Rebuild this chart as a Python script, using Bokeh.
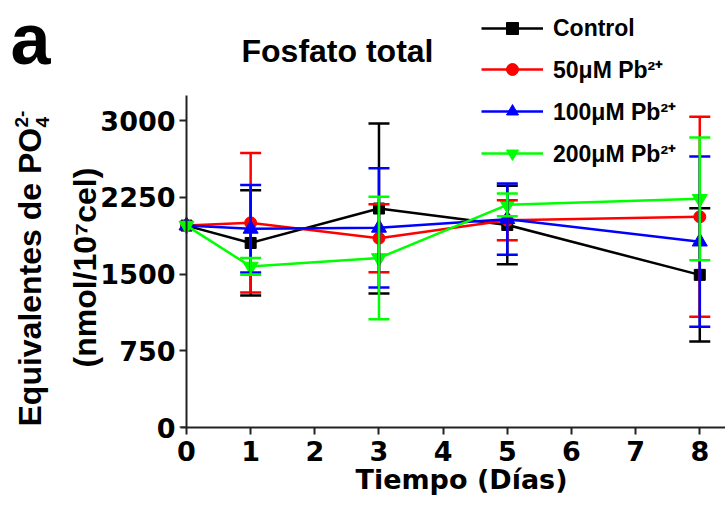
import math
from bokeh.plotting import figure
from bokeh.layouts import row
from bokeh.models import (ColumnDataSource, Range1d, FixedTicker, Whisker, TeeHead,
                          Label, Legend, LegendItem, LinearAxis)
from bokeh.embed import file_html
from bokeh.resources import INLINE

# ---------------- data ----------------
days = [0, 1, 3, 5, 8]
control_mean = [1975, 1805, 2142, 1981, 1493]
control_sd = [0, 515, 832, 383, 652]
pb50_mean = [1975, 2002, 1852, 2028, 2061]
pb50_sd = [0, 682, 333, 196, 978]
pb100_mean = [1975, 1943, 1953, 2038, 1818]
pb100_sd = [0, 428, 583, 349, 833]
pb200_mean = [1975, 1575, 1658, 2178, 2237]
pb200_sd = [0, 82, 598, 111, 600]
series_names = ["Control", "50μM Pb²⁺", "100μM Pb²⁺", "200μM Pb²⁺"]
y_ticks = [0, 750, 1500, 2250, 3000]
x_ticks = [0, 1, 2, 3, 4, 5, 6, 7, 8]

# ---------------- layout ----------------
W, H = 725, 506
W0 = 54                    # left strip (panel letter, first y-title line)
FL, FB = 176, 79           # page x of the frame's left edge, bottom border
X0PX, XSCALE = 186, 64.16  # page x of day 0, px per day
YSCALE = 0.10223           # px per unit on y
FRAME_H = H - FB
YMAX = FRAME_H / YSCALE
LF = "Liberation Sans"
TF = "DejaVu Sans"
R = math.pi / 2


def dx(px):
    return (px - X0PX) / XSCALE


def dy(py):
    return (FRAME_H - py) / YSCALE


# ---------- left strip ----------
f0 = figure(width=W0, height=H, output_backend="svg", toolbar_location=None,
            x_range=Range1d(0, W0), y_range=Range1d(0, YMAX),
            x_axis_type=None, y_axis_type=None, min_border_left=0,
            min_border_right=0, min_border_top=0, min_border_bottom=FB)
f0.outline_line_color = None
f0.background_fill_color = "white"
f0.border_fill_color = "white"


def lab0(text, px, py, size, angle=0.0):
    f0.add_layout(Label(x=px, y=dy(py), text=text, text_font=LF,
                        text_font_style="bold", text_font_size=size,
                        text_color="black", text_align="left",
                        text_baseline="alphabetic", angle=angle))


lab0("a", 10, 38, "72px")
lab0("Equivalentes de PO", 29, 426, "32px", angle=R)
lab0("4", 42, 127, "19px", angle=R)
lab0("2-", 21, 127, "19px", angle=R)

# ---------- main chart ----------
p = figure(width=W - W0, height=H, output_backend="svg", toolbar_location=None,
           x_range=Range1d(dx(FL), dx(W)), y_range=Range1d(0, YMAX),
           min_border_left=FL - W0, min_border_right=0, min_border_top=0,
           min_border_bottom=FB)
p.outline_line_color = None
p.xgrid.visible = False
p.ygrid.visible = False
p.background_fill_color = "white"
p.border_fill_color = "white"

AX = "#222222"
# y tick labels (axis at the frame edge, line and ticks hidden)
ya = p.yaxis[0]
ya.ticker = FixedTicker(ticks=y_ticks)
ya.axis_line_color = None
ya.major_tick_line_color = None
ya.minor_tick_line_color = None
ya.major_tick_in = 0
ya.major_tick_out = 0
ya.major_label_standoff = 1
ya.major_label_text_font = TF
ya.major_label_text_font_style = "bold"
ya.major_label_text_font_size = "27px"
ya.major_label_text_color = "black"

# y axis line and ticks through day 0
yb = LinearAxis(fixed_location=0, ticker=FixedTicker(ticks=y_ticks),
                bounds=(0, 3245), axis_line_color=AX, axis_line_width=2,
                major_tick_line_color=AX, major_tick_line_width=2,
                major_tick_in=0, major_tick_out=7, minor_tick_line_color=None,
                major_label_overrides={t: "" for t in y_ticks},
                major_label_standoff=0)
p.add_layout(yb, "left")

xa = p.xaxis[0]
xa.ticker = FixedTicker(ticks=x_ticks)
xa.bounds = (-0.09, dx(W))
xa.axis_line_color = AX
xa.axis_line_width = 2
xa.major_tick_line_color = AX
xa.major_tick_line_width = 2
xa.major_tick_in = 0
xa.major_tick_out = 7
xa.minor_tick_line_color = None
xa.major_label_standoff = 6
xa.major_label_text_font = TF
xa.major_label_text_font_style = "bold"
xa.major_label_text_font_size = "27px"
xa.major_label_text_color = "black"

colors = ["#000000", "#FF0000", "#0000FF", "#00FF00"]
markers = ["square", "circle", "triangle", "inverted_triangle"]
sizes = [11, 12, 15, 15]
means = [control_mean, pb50_mean, pb100_mean, pb200_mean]
sds = [control_sd, pb50_sd, pb100_sd, pb200_sd]

items = []
for name, c, m, s, mean, sd in zip(series_names, colors, markers, sizes, means, sds):
    xs = [d for d, e in zip(days, sd) if e > 0]
    up = [v + e for v, e in zip(mean, sd) if e > 0]
    lo = [v - e for v, e in zip(mean, sd) if e > 0]
    esrc = ColumnDataSource(data=dict(x=xs, upper=up, lower=lo))
    wh = Whisker(source=esrc, base="x", upper="upper", lower="lower",
                 line_color=c, line_width=2.5, level="glyph",
                 upper_head=TeeHead(size=21, line_color=c, line_width=2.5),
                 lower_head=TeeHead(size=21, line_color=c, line_width=2.5))
    p.add_layout(wh)
    src = ColumnDataSource(data=dict(x=days, y=mean))
    lr = p.line("x", "y", source=src, line_color=c, line_width=2.5)
    sr = p.scatter("x", "y", source=src, marker=m, size=s, fill_color=c,
                   line_color=c)
    items.append(LegendItem(label=name, renderers=[lr, sr]))

legend = Legend(items=items, location=(305, 258), orientation="vertical",
                label_text_font=LF, label_text_font_style="bold",
                label_text_font_size="23px", label_text_color="black",
                glyph_width=62, glyph_height=30, label_height=30,
                label_standoff=10, spacing=10, padding=5, margin=0,
                border_line_color=None, background_fill_alpha=0)
p.add_layout(legend)


def lab(text, px, py, size, align="left", angle=0.0, font=LF, place="center"):
    p.add_layout(Label(x=dx(px), y=dy(py), text=text, text_font=font,
                       text_font_style="bold", text_font_size=size,
                       text_color="black", text_align=align,
                       text_baseline="alphabetic", angle=angle), place)


lab("Fosfato total", 337, 50, "32px", align="center")
lab("(nmol/10⁷cel)", 84, 367, "32px", angle=R, place="left")
lab("Tiempo (Días)", 461, 479, "27px", align="center", font=TF, place="below")

layout = row(f0, p)
open("out.html", "w").write(file_html(layout, INLINE))
